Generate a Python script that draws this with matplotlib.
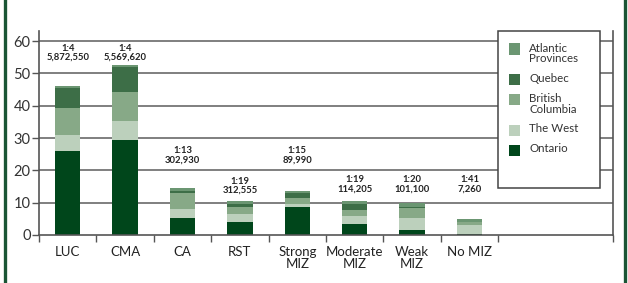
import numpy as np
import matplotlib
matplotlib.use("Agg")
import matplotlib.pyplot as plt
from matplotlib.patches import Rectangle
from matplotlib.lines import Line2D

# categories and stacked shares (bottom to top)
categories = ["LUC", "CMA", "CA", "RST", "Strong\nMIZ", "Moderate\nMIZ", "Weak\nMIZ", "No MIZ"]
ontario = [26.0, 29.4, 5.3, 4.0, 8.7, 3.4, 1.5, 0.3]
the_west = [4.9, 5.9, 2.7, 2.5, 0.9, 2.5, 3.8, 2.8]
british_columbia = [8.5, 8.9, 5.0, 2.2, 1.8, 1.8, 3.1, 0.9]
quebec = [6.1, 7.9, 0.6, 0.9, 1.6, 1.9, 0.3, 0.1]
atlantic = [0.6, 0.5, 0.9, 0.9, 0.6, 0.9, 1.3, 0.8]

ratios = ["1:4", "1:4", "1:13", "1:19", "1:15", "1:19", "1:20", "1:41"]
populations = ["5,872,550", "5,569,620", "302,930", "312,555", "89,990", "114,205", "101,100", "7,260"]
label_y = [53.5, 53.5, 21.7, 12.4, 21.8, 12.9, 12.9, 12.9]

series = [
    ("Ontario", ontario, "#00461b"),
    ("The West", the_west, "#bcd0bc"),
    ("British\nColumbia", british_columbia, "#87a987"),
    ("Quebec", quebec, "#3d6e47"),
    ("Atlantic\nProvinces", atlantic, "#6b9672"),
]

plt.rcParams['font.family'] = ['Lato', 'DejaVu Sans']

W, H = 628, 283
fig = plt.figure(figsize=(W / 100, H / 100), dpi=100)
ax = fig.add_axes([39 / W, 48 / H, 574 / W, 204 / H])

x = np.arange(len(categories))
bottom = np.zeros(len(categories))
for name, vals, col in series:
    ax.bar(x, vals, width=0.44, bottom=bottom, color=col, zorder=2, linewidth=0)
    bottom += np.array(vals)

for i in range(len(categories)):
    ax.text(x[i], label_y[i], ratios[i] + "\n" + populations[i], ha="center", va="bottom",
            fontsize=6.8, fontweight="bold", color="#222222", linespacing=1.05, zorder=4)

ax.set_xlim(-0.5, 9.5)
ax.set_ylim(0, 63.1)
ax.set_yticks(np.arange(0, 61, 10))
ax.tick_params(axis="y", length=5, width=1, color="#555555", labelsize=10.5,
               labelcolor="#333333", pad=1)
for yv in range(10, 61, 10):
    ax.axhline(yv, color="#6a6a6a", lw=1.2, zorder=1)

ax.set_xticks(list(np.arange(-0.5, 8, 1.0)) + [9.5])
ax.set_xticklabels([])
ax.tick_params(axis="x", which="major", length=5, width=1, color="#555555")
ax.set_xticks(x, minor=True)
ax.set_xticklabels(categories, minor=True, fontsize=9.5, color="#222222", linespacing=1.0)
ax.tick_params(axis="x", which="minor", length=0, pad=8)

ax.spines["top"].set_visible(False)
for s in ["left", "right", "bottom"]:
    ax.spines[s].set_color("#555555")
    ax.spines[s].set_linewidth(1.2)

# legend box drawn by hand to match the tall frame
ax.add_patch(Rectangle((498 / W, (H - 188) / H), 102 / W, 157 / H, transform=fig.transFigure,
                       facecolor="white", edgecolor="#444444", lw=1.1, zorder=5, clip_on=False))
cy = 49
for name, vals, col in reversed(series):
    n = name.count("\n") + 1
    fig.add_artist(Rectangle((509 / W, (H - cy - 5.5) / H), 11 / W, 11 / H,
                             transform=fig.transFigure, facecolor=col, edgecolor="none", zorder=6))
    fig.text(529 / W, (H - cy + 6.5) / H, name, ha="left", va="top", fontsize=8.3,
             color="#333333", linespacing=0.95, zorder=6)
    cy += 20 + 10.5 * (n - 1)

# dark green page borders
fig.add_artist(Line2D([4.5 / W, 4.5 / W], [0, 1], transform=fig.transFigure, color="#1a5535", lw=2.4))
fig.add_artist(Line2D([625 / W, 625 / W], [0, 1], transform=fig.transFigure, color="#1a5535", lw=2.4))

fig.savefig("out.png", dpi=100)
